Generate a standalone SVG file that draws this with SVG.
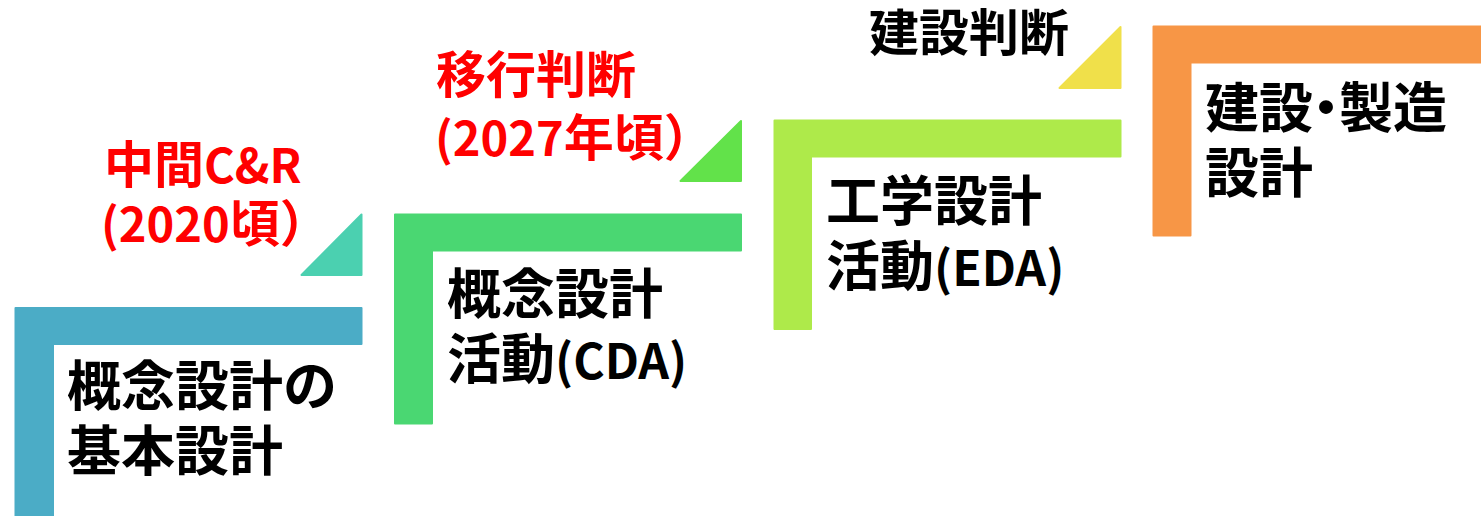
<svg xmlns="http://www.w3.org/2000/svg" width="1481" height="516" viewBox="0 0 1481 516">
<style>
.shape{stroke-width:2;stroke-linejoin:round}
.lbl{font-family:"Noto Sans CJK JP","Noto Sans CJK SC",sans-serif;font-weight:bold;font-size:54px;fill:#000}
.red{font-family:"Noto Sans CJK JP","Noto Sans CJK SC",sans-serif;font-weight:bold;font-size:50px;fill:#FF0000}
.blk{font-family:"Noto Sans CJK JP","Noto Sans CJK SC",sans-serif;font-weight:bold;font-size:50px;fill:#000}
.lat{font-size:48px}
.rlat{font-size:47px}
</style>
<rect width="1481" height="516" fill="#FFFFFF"/>
<g id="step1">
<path class="shape" fill="#4BACC6" stroke="#4BACC6" d="M15.5,308 H361.5 V344 H53 V517 H15.5 Z"/>
<text class="lbl" x="67" y="406">概念設計の</text>
<text class="lbl" x="67" y="471">基本設計</text>
</g>
<g id="step2">
<path class="shape" fill="#4AD772" stroke="#4AD772" d="M395,214.5 H741 V250.5 H432 V423.5 H395 Z"/>
<text class="lbl" x="447" y="314">概念設計</text>
<text class="lbl" x="447" y="379">活動<tspan class="lat">(CDA)</tspan></text>
</g>
<g id="step3">
<path class="shape" fill="#AEEA4A" stroke="#AEEA4A" d="M774.5,120.5 H1120.5 V156.5 H811 V329 H774.5 Z"/>
<text class="lbl" x="826" y="221">工学設計</text>
<text class="lbl" x="826" y="286">活動<tspan class="lat">(EDA)</tspan></text>
</g>
<g id="step4">
<path class="shape" fill="#F79646" stroke="#F79646" d="M1153.5,26.5 H1483 V62.5 H1190.5 V235.5 H1153.5 Z"/>
<text class="lbl" x="1205" y="128">建設<tspan dx="-14">・</tspan><tspan dx="-14">製造</tspan></text>
<text class="lbl" x="1205" y="193">設計</text>
</g>
<g id="milestone1">
<path class="shape" fill="#4BD0B0" stroke="#4BD0B0" d="M301.5,275 L361.5,214.5 V275 Z"/>
<text class="red" x="104" y="183">中間<tspan class="rlat">C&amp;R</tspan></text>
<text class="red" x="101" y="242"><tspan class="rlat">(2020</tspan>頃）</text>
</g>
<g id="milestone2">
<path class="shape" fill="#62E24A" stroke="#62E24A" d="M680.5,181 L741,121 V181 Z"/>
<text class="red" x="436" y="93">移行判断</text>
<text class="red" x="435" y="156"><tspan class="rlat">(2027</tspan>年頃）</text>
</g>
<g id="milestone3">
<path class="shape" fill="#F0E04A" stroke="#F0E04A" d="M1059.5,88 L1120.5,27 V88 Z"/>
<text class="blk" x="869" y="51">建設判断</text>
</g>
</svg>
